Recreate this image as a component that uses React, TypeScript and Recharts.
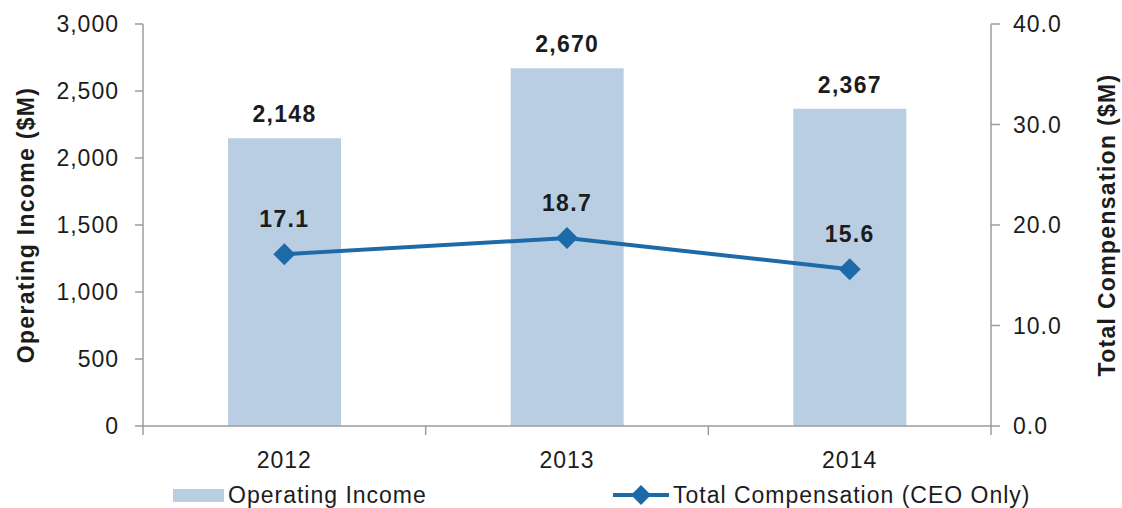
import React from 'react';
import {
  ComposedChart,
  Bar,
  Line,
  XAxis,
  YAxis,
  Legend,
  LabelList,
} from 'recharts';

const years = ['2012', '2013', '2014'];
const operatingIncome = [2148, 2670, 2367];
const ceoCompensation = [17.1, 18.7, 15.6];
const incomeTicks = [0, 500, 1000, 1500, 2000, 2500, 3000];
const compTicks = [0, 10, 20, 30, 40];

const data = years.map((year, i) => ({
  year,
  income: operatingIncome[i],
  comp: ceoCompensation[i],
}));

const CHART_W = 1122;
const CHART_H = 508;
const LEFT_AXIS_W = 143;
const RIGHT_AXIS_W = 131;
const PLOT_W = CHART_W - LEFT_AXIS_W - RIGHT_AXIS_W;
const HALF_BAND = PLOT_W / years.length / 2;

const FONT = '"Liberation Sans", Arial, Helvetica, sans-serif';
const TEXT = '#1c1c1c';
const AXIS = '#9c9c9c';
const BAR_COLOR = '#b9cee3';
const LINE_COLOR = '#1d6aa9';

const tickStyle = { fontFamily: FONT, fontSize: 23, letterSpacing: 1, fill: TEXT };
const valueStyle = { fontFamily: FONT, fontSize: 23, fontWeight: 700, letterSpacing: 1.3, fill: TEXT };

// vertical axis title, centred on the plot height
const AxisTitle = ({ viewBox, value, dx }: any) => {
  if (!viewBox) return null;
  const cx = viewBox.x + dx;
  const cy = viewBox.y + viewBox.height / 2;
  return (
    <text
      x={cx}
      y={cy}
      transform={`rotate(-90, ${cx}, ${cy})`}
      textAnchor="middle"
      dominantBaseline="central"
      style={{ fontFamily: FONT, fontSize: 23, fontWeight: 700, letterSpacing: 1.3, fill: TEXT }}
    >
      {value}
    </text>
  );
};

// category label plus the Excel-style tick marks between categories
const YearTick = ({ x, y, payload, index }: any) => (
  <g>
    <line x1={x - HALF_BAND} y1={y} x2={x - HALF_BAND} y2={y + 9} stroke={AXIS} strokeWidth={1.5} />
    {index === years.length - 1 && (
      <line x1={x + HALF_BAND} y1={y} x2={x + HALF_BAND} y2={y + 9} stroke={AXIS} strokeWidth={1.5} />
    )}
    <text x={x} y={y + 42} textAnchor="middle" style={tickStyle}>
      {payload.value}
    </text>
  </g>
);

const Diamond = ({ cx, cy, r = 11 }: any) => (
  <path
    d={`M${cx},${cy - r} L${cx + r},${cy} L${cx},${cy + r} L${cx - r},${cy} Z`}
    fill={LINE_COLOR}
  />
);

const ChartLegend = () => (
  <div
    style={{
      position: 'relative',
      height: 26,
      fontFamily: FONT,
      fontSize: 23,
      letterSpacing: 1,
      color: TEXT,
      lineHeight: '26px',
      whiteSpace: 'nowrap',
    }}
  >
    <div style={{ position: 'absolute', left: 173, top: 7, width: 51, height: 13, background: BAR_COLOR }} />
    <span style={{ position: 'absolute', left: 228, top: 0 }}>Operating Income</span>
    <svg style={{ position: 'absolute', left: 611, top: 0 }} width={62} height={26}>
      <line x1={2} y1={13} x2={58} y2={13} stroke={LINE_COLOR} strokeWidth={4} />
      <Diamond cx={30} cy={13} r={10} />
    </svg>
    <span style={{ position: 'absolute', left: 673, top: 0 }}>Total Compensation (CEO Only)</span>
  </div>
);

export default function App() {
  return (
    <div style={{ position: 'absolute', left: 0, top: 0, background: '#fff' }}>
      <ComposedChart
        width={CHART_W}
        height={CHART_H}
        data={data}
        margin={{ top: 24, right: 0, bottom: 0, left: 0 }}
      >
        <XAxis
          dataKey="year"
          height={56}
          axisLine={{ stroke: AXIS, strokeWidth: 1.5 }}
          tickLine={false}
          tickSize={0}
          tickMargin={0}
          tick={<YearTick />}
          interval={0}
        />
        <YAxis
          yAxisId="left"
          width={LEFT_AXIS_W}
          domain={[0, 3000]}
          ticks={incomeTicks}
          interval={0}
          axisLine={{ stroke: AXIS, strokeWidth: 1.5 }}
          tickLine={{ stroke: AXIS, strokeWidth: 1.5 }}
          tickSize={8}
          tickMargin={16}
          tick={tickStyle}
          tickFormatter={(v: number) => v.toLocaleString('en-US')}
          label={<AxisTitle value="Operating Income ($M)" dx={26} />}
        />
        <YAxis
          yAxisId="right"
          orientation="right"
          width={RIGHT_AXIS_W}
          domain={[0, 40]}
          ticks={compTicks}
          interval={0}
          axisLine={{ stroke: AXIS, strokeWidth: 1.5 }}
          tickLine={{ stroke: AXIS, strokeWidth: 1.5 }}
          tickSize={9}
          tickMargin={13}
          tick={tickStyle}
          tickFormatter={(v: number) => v.toFixed(1)}
          label={<AxisTitle value="Total Compensation ($M)" dx={116} />}
        />
        <Legend verticalAlign="bottom" content={() => <ChartLegend />} />
        <Bar
          yAxisId="left"
          dataKey="income"
          name="Operating Income"
          fill={BAR_COLOR}
          barSize={113}
          isAnimationActive={false}
        >
          <LabelList
            dataKey="income"
            position="top"
            offset={16}
            formatter={(v: any) => Number(v).toLocaleString('en-US')}
            style={valueStyle}
          />
        </Bar>
        <Line
          yAxisId="right"
          dataKey="comp"
          name="Total Compensation (CEO Only)"
          stroke={LINE_COLOR}
          strokeWidth={4}
          dot={(p: any) => <Diamond key={`d-${p.index}`} cx={p.cx} cy={p.cy} />}
          activeDot={false}
          isAnimationActive={false}
        >
          <LabelList
            dataKey="comp"
            position="top"
            offset={27}
            formatter={(v: any) => Number(v).toFixed(1)}
            style={valueStyle}
          />
        </Line>
      </ComposedChart>
    </div>
  );
}
